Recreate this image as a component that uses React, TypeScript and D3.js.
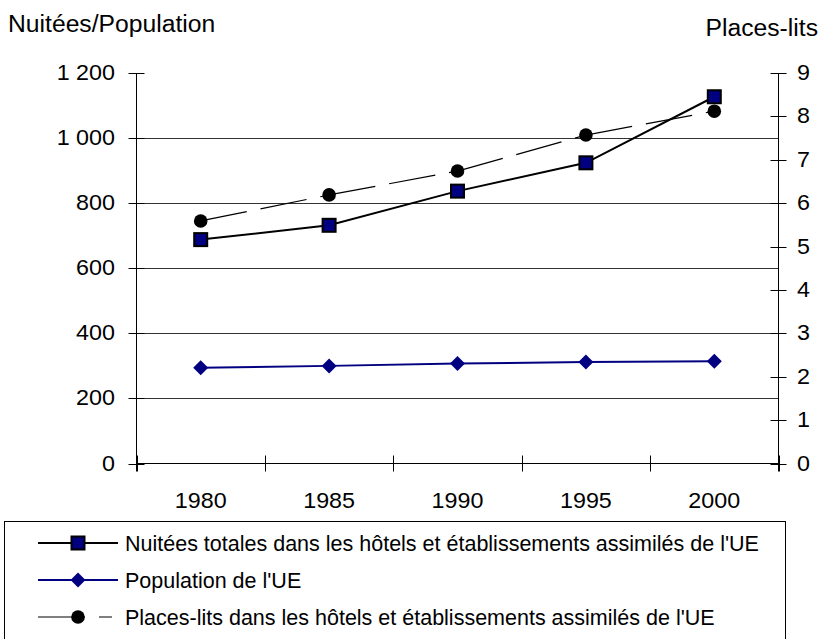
import React from "react";
import * as d3 from "d3";

const years = ["1980", "1985", "1990", "1995", "2000"];
const nuitees = [688, 732, 837, 924, 1127];
const population = [294, 300, 307, 312, 314];
const placesLits = [5.59, 6.19, 6.74, 7.57, 8.12];
const leftTicks = [0, 200, 400, 600, 800, 1000, 1200];
const rightTicks = [0, 1, 2, 3, 4, 5, 6, 7, 8, 9];
const legendLabels = [
  "Nuitées totales dans les hôtels et établissements assimilés de l'UE",
  "Population de l'UE",
  "Places-lits dans les hôtels et établissements assimilés de l'UE",
];

const NAVY = "#000080";
const FONT = "'Liberation Sans', Arial, sans-serif";
const SX = 1.06;

const fmt = (v: number) => (v >= 1000 ? `${Math.floor(v / 1000)} ${String(v % 1000).padStart(3, "0")}` : String(v));

function T({ x, y, size, anchor, children }: { x: number; y: number; size: number; anchor?: string; children: React.ReactNode }) {
  return (
    <g transform={`translate(${x},${y}) scale(${SX},1)`}>
      <text x={0} y={0} fontSize={size} textAnchor={anchor || "start"}>{children}</text>
    </g>
  );
}

export default function App() {
  const W = 822, H = 639;
  const left = 136.5, right = 778.5, top = 73, bottom = 463.5;
  const x = d3.scaleBand<string>().domain(years).range([left, right]).padding(0);
  const cx = (y: string) => (x(y) as number) + x.bandwidth() / 2;
  const yL = d3.scaleLinear().domain([0, 1200]).range([bottom, top]);
  const yR = d3.scaleLinear().domain([0, 9]).range([bottom, top]);

  const lineL = d3.line<number>().x((_, i) => cx(years[i])).y((d) => yL(d));

  const square = (px: number, py: number, k: string) => (
    <rect key={k} x={px - 6.5} y={py - 6.5} width={13} height={13} fill={NAVY} stroke="#000" strokeWidth={2} />
  );
  const diamond = (px: number, py: number, k: string) => (
    <path key={k} d={`M${px},${py - 7.5}L${px + 7.5},${py}L${px},${py + 7.5}L${px - 7.5},${py}Z`} fill={NAVY} />
  );
  const circle = (px: number, py: number, k: string) => <circle key={k} cx={px} cy={py} r={6.8} fill="#000" />;

  const boundaries = [...years.map((y) => x(y) as number), right];

  const legendY = [543, 580, 617];

  return (
    <svg width={W} height={H} style={{ position: "absolute", left: 0, top: 0, background: "#fff" }} fontFamily={FONT}>
      {leftTicks.filter((t) => t > 0 && t < 1200).map((t) => (
        <line key={"g" + t} x1={left} x2={right} y1={Math.round(yL(t)) + 0.5} y2={Math.round(yL(t)) + 0.5} stroke="#333" strokeWidth={1} />
      ))}
      <line x1={left} x2={left} y1={top} y2={bottom + 8} stroke="#000" />
      <line x1={right} x2={right} y1={top} y2={bottom + 8} stroke="#000" />
      <line x1={left} x2={right} y1={bottom} y2={bottom} stroke="#000" />
      {leftTicks.map((t) => (
        <g key={"lt" + t}>
          <line x1={left - 8} x2={left + 8} y1={Math.round(yL(t)) + 0.5} y2={Math.round(yL(t)) + 0.5} stroke="#000" />
          <T x={115} y={yL(t) + 7} size={22} anchor="end">{fmt(t)}</T>
        </g>
      ))}
      {rightTicks.map((t) => (
        <g key={"rt" + t}>
          <line x1={right - 8} x2={right + 8} y1={Math.round(yR(t)) + 0.5} y2={Math.round(yR(t)) + 0.5} stroke="#000" />
          <T x={797} y={yR(t) + 7} size={22}>{t}</T>
        </g>
      ))}
      {boundaries.map((b, i) => (
        <line key={"xt" + i} x1={Math.round(b) + 0.5} x2={Math.round(b) + 0.5} y1={bottom - 8} y2={bottom + 8} stroke="#000" />
      ))}
      {years.map((y) => (
        <T key={"yl" + y} x={cx(y)} y={507.5} size={22} anchor="middle">{y}</T>
      ))}
      <T x={8} y={31.5} size={23.3}>Nuitées/Population</T>
      <T x={818} y={36} size={23.3} anchor="end">Places-lits</T>

      {placesLits.slice(1).map((v, i) => (
        <line key={"pl" + i} x1={cx(years[i])} y1={yR(placesLits[i])} x2={cx(years[i + 1])} y2={yR(v)} stroke="#000" strokeWidth={1.2} strokeDasharray="47,14" />
      ))}
      <path d={lineL(population) || ""} fill="none" stroke={NAVY} strokeWidth={2} />
      <path d={lineL(nuitees) || ""} fill="none" stroke="#000" strokeWidth={2} />

      {population.map((v, i) => diamond(cx(years[i]), yL(v), "d" + i))}
      {nuitees.map((v, i) => square(cx(years[i]), yL(v), "s" + i))}
      {placesLits.map((v, i) => circle(cx(years[i]), yR(v), "c" + i))}

      <rect x={4.5} y={521.5} width={781} height={130} fill="none" stroke="#000" strokeWidth={1} />
      <line x1={38} x2={118} y1={legendY[0]} y2={legendY[0]} stroke="#000" strokeWidth={2} />
      {square(78, legendY[0], "ls")}
      <line x1={38} x2={118} y1={legendY[1]} y2={legendY[1]} stroke={NAVY} strokeWidth={2} />
      {diamond(78, legendY[1], "ld")}
      <line x1={38} x2={112} y1={legendY[2]} y2={legendY[2]} stroke="#000" strokeWidth={1.2} strokeDasharray="47,14" />
      {circle(78, legendY[2], "lc")}
      {legendLabels.map((l, i) => (
        <text key={"lg" + i} x={125} y={legendY[i] + 7.5} fontSize={21.5}>{l}</text>
      ))}
    </svg>
  );
}
